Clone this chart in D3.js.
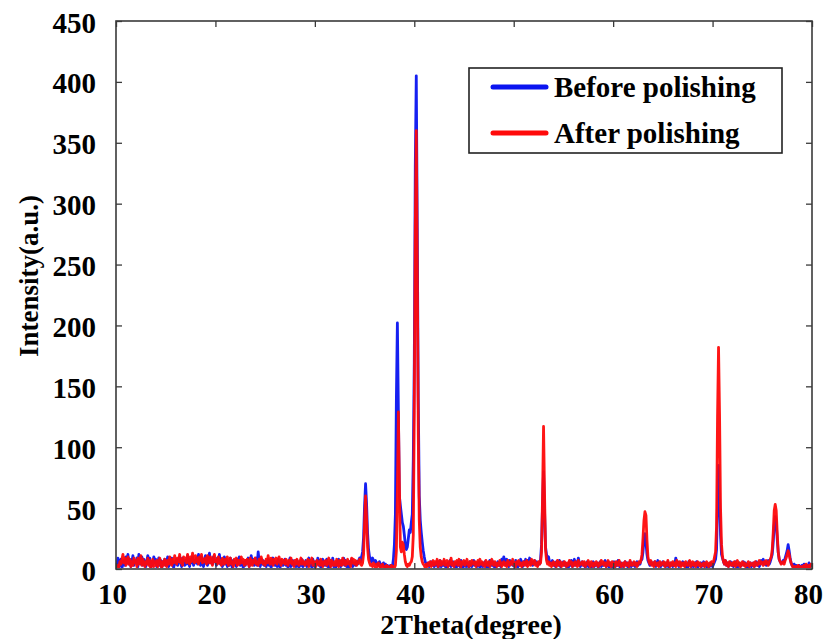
<!DOCTYPE html>
<html>
<head>
<meta charset="utf-8">
<script src="https://cdn.jsdelivr.net/npm/d3@7"></script>
<style>
  html, body { margin: 0; padding: 0; background: #ffffff; }
  svg { display: block; }
  .lbl { font-family: "Liberation Serif", "Times New Roman", serif; font-weight: bold; fill: #000; }
</style>
</head>
<body>
<svg id="chart" width="823" height="639"></svg>
<script>
// XRD scan grid: 2θ from 10° to 80° in 0.1° steps
const angleStart = 10;
const angleStep = 0.1;

// Intensity before polishing (one row per degree, 0.1° steps)
const beforePolishing = [
  6,3,9,2,5,8,1,4,7,3,
  10,5,12,4,8,2,6,11,3,7,
  5,9,2,12,6,4,10,3,8,5,
  2,7,11,4,9,1,6,3,10,5,
  8,2,5,9,3,7,1,6,4,8,
  3,6,10,2,7,4,9,5,1,6,
  4,8,3,7,10,5,2,9,6,3,
  7,4,11,6,2,8,5,10,3,7,
  5,9,4,12,6,3,10,7,2,8,
  11,6,3,9,13,5,8,4,10,6,
  7,3,9,5,12,4,8,2,6,10,
  4,8,2,6,3,9,5,1,7,4,
  6,2,8,4,10,3,7,5,1,6,
  3,7,5,9,2,6,11,4,8,3,
  5,9,3,14,6,2,8,4,7,3,
  6,2,5,8,3,7,1,5,9,4,
  3,6,2,8,4,1,7,5,3,6,
  8,3,5,1,6,9,2,4,7,3,
  5,2,7,4,1,6,3,8,2,5,
  4,7,2,6,9,3,5,1,8,4,
  2,6,4,9,3,7,1,5,8,3,
  6,3,8,2,5,1,7,4,9,2,
  4,1,6,3,8,5,2,7,4,9,
  3,7,2,5,1,6,4,8,2,5,
  5,3,6,4,7,9,6,10,14,26,
  52,70,54,30,16,10,8,6,9,7,
  6,7,4,5,3,6,2,4,3,5,
  2,4,1,3,2,1,3,0,2,8,
  20,45,140,202,130,60,52,45,38,35,
  28,20,16,18,25,32,30,38,45,90,
  170,330,405,280,140,60,40,30,22,15,
  10,6,4,3,5,2,4,6,3,5,
  2,5,3,6,1,4,7,2,5,3,
  6,2,4,1,5,3,7,2,4,6,
  3,1,5,2,6,4,2,7,3,1,
  4,6,2,5,3,1,6,4,2,5,
  7,3,5,2,4,6,1,3,5,2,
  4,6,3,1,5,2,7,4,3,6,
  2,5,1,4,6,3,5,2,8,4,
  10,6,3,8,5,2,7,4,6,3,
  5,2,7,4,1,6,3,8,5,2,
  6,4,8,3,7,5,9,4,6,3,
  5,7,4,6,3,5,4,8,20,52,
  80,48,18,12,8,10,6,5,4,7,
  3,5,2,6,4,3,7,2,5,4,
  6,3,5,2,4,1,6,3,7,2,
  5,8,3,6,4,9,5,2,4,6,
  3,5,1,4,6,2,5,3,1,4,
  6,2,4,3,5,1,3,6,2,4,
  3,5,7,2,4,6,1,5,3,2,
  4,6,2,5,3,7,4,1,5,3,
  2,4,6,3,5,1,4,6,2,5,
  3,5,2,4,6,3,5,4,7,8,
  14,24,29,22,12,7,5,3,6,4,
  5,3,6,2,4,7,3,5,2,4,
  6,3,5,2,4,6,1,3,5,4,
  2,5,3,9,4,6,2,5,3,4,
  6,3,5,2,4,1,6,3,5,2,
  4,2,5,3,6,1,4,3,5,2,
  4,6,2,5,3,1,4,2,5,3,
  2,4,6,8,16,55,85,60,28,12,
  9,6,4,7,3,5,2,4,6,3,
  5,2,4,6,3,1,4,5,2,3,
  4,6,3,5,2,4,1,3,5,2,
  3,5,2,4,6,3,5,2,4,7,
  5,8,4,6,3,5,7,4,6,9,
  12,22,36,43,38,25,14,8,6,5,
  5,7,6,9,12,15,20,15,9,5,
  3,2,4,1,3,2,0,3,1,2,
  3,1,4,2,0,3,1,5,2,3,
  4
];

// Intensity after polishing (same grid)
const afterPolishing = [
  1,0,3,2,6,4,8,12,5,9,
  3,7,10,4,8,2,6,3,9,5,
  7,2,9,4,6,11,3,8,5,2,
  6,4,9,3,7,1,5,8,2,6,
  3,7,2,5,9,4,1,6,3,8,
  5,2,7,4,10,6,3,8,5,11,
  7,4,9,6,12,5,8,3,10,7,
  9,5,12,7,4,10,6,13,8,5,
  11,6,9,4,10,7,12,5,8,6,
  9,4,11,7,5,10,6,3,9,12,
  6,8,4,10,5,7,3,9,6,4,
  8,5,10,3,7,9,4,6,2,8,
  5,9,3,7,4,6,10,5,8,3,
  7,4,8,5,2,9,6,3,7,5,
  9,4,6,3,8,5,10,7,4,6,
  3,8,5,11,6,4,9,7,3,8,
  5,9,4,7,10,6,3,8,5,7,
  4,8,6,3,7,5,9,4,6,2,
  7,4,8,5,3,6,9,4,7,5,
  3,6,4,8,2,7,5,9,3,6,
  5,2,7,4,6,3,8,5,2,6,
  4,7,3,6,9,4,2,7,5,3,
  6,3,8,4,2,7,5,3,9,4,
  7,3,5,8,4,6,2,9,5,8,
  4,7,3,6,5,8,4,3,5,12,
  38,60,42,18,8,5,3,4,2,5,
  3,1,4,2,5,3,1,2,4,1,
  2,0,3,1,2,0,1,3,0,2,
  1,3,15,65,129,70,18,14,22,20,
  12,6,3,2,4,3,5,6,10,28,
  130,280,360,250,110,40,18,10,6,4,
  3,1,4,2,5,3,6,2,4,7,
  3,6,4,8,2,5,7,3,6,4,
  8,3,5,7,2,6,4,9,3,5,
  2,6,4,7,3,8,5,2,6,4,
  7,3,5,8,4,2,6,3,7,5,
  4,6,2,5,7,3,8,4,6,3,
  5,2,7,4,3,6,2,5,8,4,
  3,6,4,2,5,3,7,4,2,5,
  6,3,5,2,7,4,3,6,4,8,
  3,5,2,6,4,7,3,5,2,4,
  6,3,5,7,2,4,6,3,8,5,
  4,7,3,5,2,6,4,5,14,60,
  117,62,16,7,4,6,3,5,2,4,
  6,3,5,2,7,4,3,6,2,5,
  3,6,4,2,5,3,7,4,6,2,
  5,3,6,4,2,7,3,5,4,6,
  3,6,2,5,4,7,3,2,6,4,
  2,5,3,6,4,2,5,3,7,4,
  6,3,5,2,4,7,3,5,2,6,
  3,5,2,6,4,3,7,5,2,4,
  5,2,6,4,3,5,2,7,4,3,
  4,6,3,5,2,4,6,5,7,12,
  25,40,47,44,24,10,6,4,7,3,
  5,2,6,4,3,5,2,6,3,5,
  4,6,2,5,3,7,4,2,5,3,
  6,3,5,2,7,4,3,6,2,5,
  3,5,2,6,4,3,5,7,2,4,
  6,3,5,2,4,6,3,5,2,4,
  3,5,2,4,6,3,2,5,3,6,
  4,6,10,14,35,125,182,128,50,20,
  10,6,4,7,3,5,2,6,4,3,
  5,3,6,2,4,7,3,5,2,4,
  6,3,5,2,4,3,6,2,5,4,
  3,5,2,6,4,3,5,7,4,6,
  5,3,6,4,7,5,3,6,8,10,
  16,30,48,53,48,30,14,8,6,4,
  5,6,4,7,9,12,15,12,8,5,
  3,1,2,0,2,1,3,0,2,1,
  2,0,3,1,4,2,1,3,2,4,
  3
];

const seriesNames = ["Before polishing", "After polishing"];
const seriesColors = ["#0a14f0", "#ff0a0a"];

const xTicks = [10, 20, 30, 40, 50, 60, 70, 80];
const yTicks = [0, 50, 100, 150, 200, 250, 300, 350, 400, 450];
const xTitle = "2Theta(degree)";
const yTitle = "Intensity(a.u.)";

// ---- layout ----
const margin = { left: 116, right: 11, top: 21, bottom: 70 };
const W = 823, H = 639;
const innerW = W - margin.left - margin.right;
const innerH = H - margin.top - margin.bottom;

const svg = d3.select("#chart");
svg.append("rect").attr("width", W).attr("height", H).attr("fill", "#fff");

const x = d3.scaleLinear().domain([10, 80]).range([0, innerW]);
const y = d3.scaleLinear().domain([0, 450]).range([innerH, 0]);

const g = svg.append("g").attr("transform", `translate(${margin.left},${margin.top})`);

const toPoints = arr => arr.map((v, i) => [+(angleStart + i * angleStep).toFixed(1), v]);
const series = [toPoints(beforePolishing), toPoints(afterPolishing)];

g.append("clipPath").attr("id", "plotClip")
  .append("rect").attr("x", 0).attr("y", -2).attr("width", innerW).attr("height", innerH + 1);

const line = d3.line().x(d => x(d[0])).y(d => y(d[1]));

const plot = g.append("g").attr("clip-path", "url(#plotClip)");
series.forEach((s, i) => {
  plot.append("path")
    .datum(s)
    .attr("d", line)
    .attr("fill", "none")
    .attr("stroke", seriesColors[i])
    .attr("stroke-width", 2.8)
    .attr("stroke-linejoin", "round")
    .attr("stroke-opacity", 0.95);
});

// ---- axes with inward ticks on all sides ----
const tickLen = 6;
const frameColor = "#3a3a3a";

const styleAxis = sel => {
  sel.select(".domain").remove();
  sel.selectAll(".tick line").attr("stroke", frameColor).attr("stroke-width", 1.3);
};

g.append("g").attr("transform", `translate(0,${innerH})`)
  .call(d3.axisBottom(x).tickValues(xTicks).tickSize(-tickLen).tickPadding(19))
  .call(styleAxis)
  .call(a => a.selectAll("text").attr("class", "lbl").attr("font-size", 29).attr("dx", -4).attr("dy", "0.55em"));

g.append("g")
  .call(d3.axisTop(x).tickValues(xTicks).tickSize(-tickLen).tickFormat(""))
  .call(styleAxis);

g.append("g")
  .call(d3.axisLeft(y).tickValues(yTicks).tickSize(-tickLen).tickPadding(20))
  .call(styleAxis)
  .call(a => a.selectAll("text").attr("class", "lbl").attr("font-size", 29).attr("dy", "0.38em"));

g.append("g").attr("transform", `translate(${innerW},0)`)
  .call(d3.axisRight(y).tickValues(yTicks).tickSize(-tickLen).tickFormat(""))
  .call(styleAxis);

svg.selectAll(".tick text").attr("font-family", null).attr("fill", "#000");

// plot frame
g.append("rect")
  .attr("width", innerW).attr("height", innerH)
  .attr("fill", "none").attr("stroke", frameColor).attr("stroke-width", 1.6);

// ---- axis titles ----
svg.append("text").attr("class", "lbl")
  .attr("x", 471).attr("y", 634)
  .attr("text-anchor", "middle").attr("font-size", 28)
  .text(xTitle);

svg.append("text").attr("class", "lbl")
  .attr("transform", "translate(38,276) rotate(-90)")
  .attr("text-anchor", "middle").attr("font-size", 27)
  .text(yTitle);

// ---- legend ----
const legend = svg.append("g");
legend.append("rect")
  .attr("x", 469).attr("y", 68).attr("width", 313).attr("height", 85)
  .attr("fill", "#fff").attr("stroke", "#222").attr("stroke-width", 1.6);

const legendRows = [87, 133];
seriesNames.forEach((name, i) => {
  legend.append("line")
    .attr("x1", 493).attr("x2", 546)
    .attr("y1", legendRows[i]).attr("y2", legendRows[i])
    .attr("stroke", seriesColors[i]).attr("stroke-width", 5)
    .attr("stroke-linecap", "round");
  legend.append("text").attr("class", "lbl")
    .attr("x", 554).attr("y", legendRows[i] + 10)
    .attr("font-size", 29)
    .text(name);
});
</script>
</body>
</html>
